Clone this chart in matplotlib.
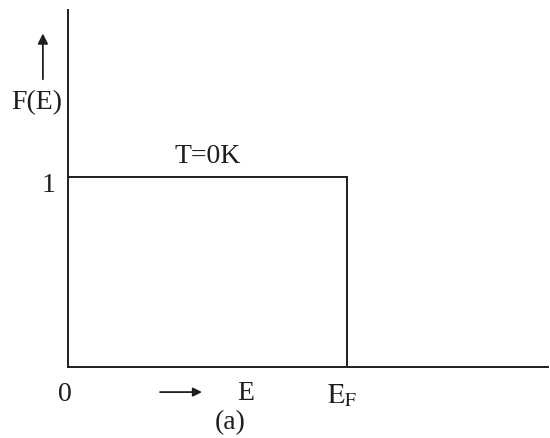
import matplotlib.pyplot as plt

plt.rcParams['font.family'] = ['Liberation Serif', 'DejaVu Serif']
plt.rcParams['mathtext.fontset'] = 'stix'

# Fermi-Dirac occupancy at absolute zero: a step that drops at E_F
e_fermi = 1.0
energy = [0.0, e_fermi, e_fermi, 1.72]
occupancy = [1.0, 1.0, 0.0, 0.0]
curve_label = 'T=0K'
ink = '#1e1e1e'

fig = plt.figure(figsize=(5.5, 4.38), dpi=100)
ax = fig.add_axes([68 / 550, 71 / 438, 480 / 550, 357 / 438])
ax.set_xlim(0, 1.72)
ax.set_ylim(0, 1.879)

ax.plot(energy[:3], occupancy[:3], color=ink, lw=1.4, solid_joinstyle='miter')

for side in ['top', 'right']:
    ax.spines[side].set_visible(False)
for side in ['left', 'bottom']:
    ax.spines[side].set_color(ink)
    ax.spines[side].set_linewidth(1.4)
ax.set_xticks([])
ax.set_yticks([])

fs = 20
ax.text(-0.113, 1.389, 'F(E)', fontsize=fs, ha='center', va='center', color=ink)
ax.annotate('', xy=(-0.09, 1.77), xytext=(-0.09, 1.50),
            arrowprops=dict(arrowstyle='-|>', color=ink, lw=1.3,
                            mutation_scale=15), annotation_clip=False)
ax.text(-0.068, 0.955, '1', fontsize=fs, ha='center', va='center', color=ink)
ax.text(0.50, 1.11, curve_label, fontsize=fs, ha='center', va='center', color=ink)

ax.text(-0.012, -0.147, '0', fontsize=fs, ha='center', va='center', color=ink)
ax.annotate('', xy=(0.49, -0.132), xytext=(0.32, -0.132),
            arrowprops=dict(arrowstyle='-|>', color=ink, lw=1.3,
                            mutation_scale=13), annotation_clip=False)
ax.text(0.635, -0.14, 'E', fontsize=fs, ha='center', va='center', color=ink)
ax.text(e_fermi - 0.02, -0.15, r'$\mathrm{E_F}$', fontsize=fs,
        ha='center', va='center', color=ink)
ax.text(0.58, -0.295, '(a)', fontsize=fs, ha='center', va='center', color=ink)

fig.savefig('out.png', dpi=100, facecolor='white')
